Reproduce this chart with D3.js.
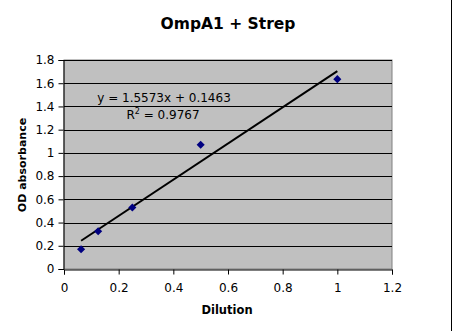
<!DOCTYPE html>
<html>
<head>
<meta charset="utf-8">
<script src="https://cdn.jsdelivr.net/npm/d3@7"></script>
<style>
  html, body { margin: 0; padding: 0; background: #fff; }
  svg { display: block; font-family: Verdana, "DejaVu Sans", sans-serif; }
</style>
</head>
<body>
<svg id="chart" width="456" height="331"></svg>
<script>
// Dilution series and measured OD absorbance
const dilution = [0.0625, 0.125, 0.25, 0.5, 1];
const absorbance = [0.17, 0.325, 0.53, 1.07, 1.635];

// Linear trendline coefficients as stated in the label
const slope = 1.5573;
const intercept = 0.1463;
const rSquared = 0.9767;

const xTicks = [0, 0.2, 0.4, 0.6, 0.8, 1, 1.2];
const yTicks = [0, 0.2, 0.4, 0.6, 0.8, 1, 1.2, 1.4, 1.6, 1.8];

const title = "OmpA1 + Strep";
const xTitle = "Dilution";
const yTitle = "OD absorbance";

const svg = d3.select("#chart");
const plot = { left: 64, top: 60, right: 392, bottom: 269 };

const x = d3.scaleLinear().domain([0, 1.2]).range([plot.left, plot.right]);
const y = d3.scaleLinear().domain([0, 1.8]).range([plot.bottom, plot.top]);

// outer frame edge on the right
svg.append("line")
  .attr("x1", 451.5).attr("x2", 451.5).attr("y1", 0).attr("y2", 331)
  .attr("stroke", "#000").attr("stroke-width", 1);

// plot background
svg.append("rect")
  .attr("x", plot.left).attr("y", plot.top)
  .attr("width", plot.right - plot.left).attr("height", plot.bottom - plot.top)
  .attr("fill", "#c0c0c0").attr("stroke", "#808080").attr("stroke-width", 1);

// horizontal gridlines
svg.append("g").selectAll("line")
  .data(yTicks.filter(d => d > 0))
  .join("line")
  .attr("x1", plot.left).attr("x2", plot.right)
  .attr("y1", d => Math.round(y(d)) + 0.5).attr("y2", d => Math.round(y(d)) + 0.5)
  .attr("stroke", "#000").attr("stroke-width", 1);

// axes
const xAxis = d3.axisBottom(x).tickValues(xTicks).tickSize(5).tickPadding(9)
  .tickFormat(d3.format("~g"));
const yAxis = d3.axisLeft(y).tickValues(yTicks).tickSize(5).tickPadding(4)
  .tickFormat(d3.format("~g"));

const gx = svg.append("g").attr("transform", `translate(0,${plot.bottom + 0.5})`).call(xAxis);
const gy = svg.append("g").attr("transform", `translate(${plot.left - 0.5},0)`).call(yAxis);
[gx, gy].forEach(g => {
  g.select(".domain").attr("stroke", "#000");
  g.selectAll(".tick line").attr("stroke", "#000");
  g.selectAll(".tick text").attr("fill", "#000")
    .style("font-family", "Verdana, 'DejaVu Sans', sans-serif").style("font-size", "12px");
});

// trendline over the data range
const xr = d3.extent(dilution);
svg.append("line")
  .attr("x1", x(xr[0])).attr("y1", y(slope * xr[0] + intercept))
  .attr("x2", x(xr[1])).attr("y2", y(slope * xr[1] + intercept))
  .attr("stroke", "#000").attr("stroke-width", 2);

// data markers
svg.append("g").selectAll("path")
  .data(dilution.map((d, i) => [d, absorbance[i]]))
  .join("path")
  .attr("d", d3.symbol(d3.symbolDiamond2, 42))
  .attr("transform", d => `translate(${x(d[0])},${y(d[1])})`)
  .attr("fill", "#000080");

// equation label
const eq = svg.append("g").attr("font-size", "12px").attr("text-anchor", "middle").attr("fill", "#000");
eq.append("text").attr("x", 164).attr("y", 102)
  .text(`y = ${slope}x + ${intercept}`);
const r2 = eq.append("text").attr("x", 163).attr("y", 119);
r2.append("tspan").text("R");
r2.append("tspan").attr("dy", -5).attr("font-size", "8px").text("2");
r2.append("tspan").attr("dy", 5).text(` = ${rSquared}`);

// titles
svg.append("text").attr("x", 228).attr("y", 29).attr("text-anchor", "middle")
  .attr("font-size", "15.5px").attr("font-weight", "bold").text(title);
svg.append("text").attr("x", 227).attr("y", 314).attr("text-anchor", "middle")
  .attr("font-size", "11.5px").attr("font-weight", "bold").text(xTitle);
svg.append("text").attr("transform", "translate(26,165) rotate(-90)").attr("text-anchor", "middle")
  .attr("font-size", "11px").attr("font-weight", "bold").text(yTitle);
</script>
</body>
</html>
